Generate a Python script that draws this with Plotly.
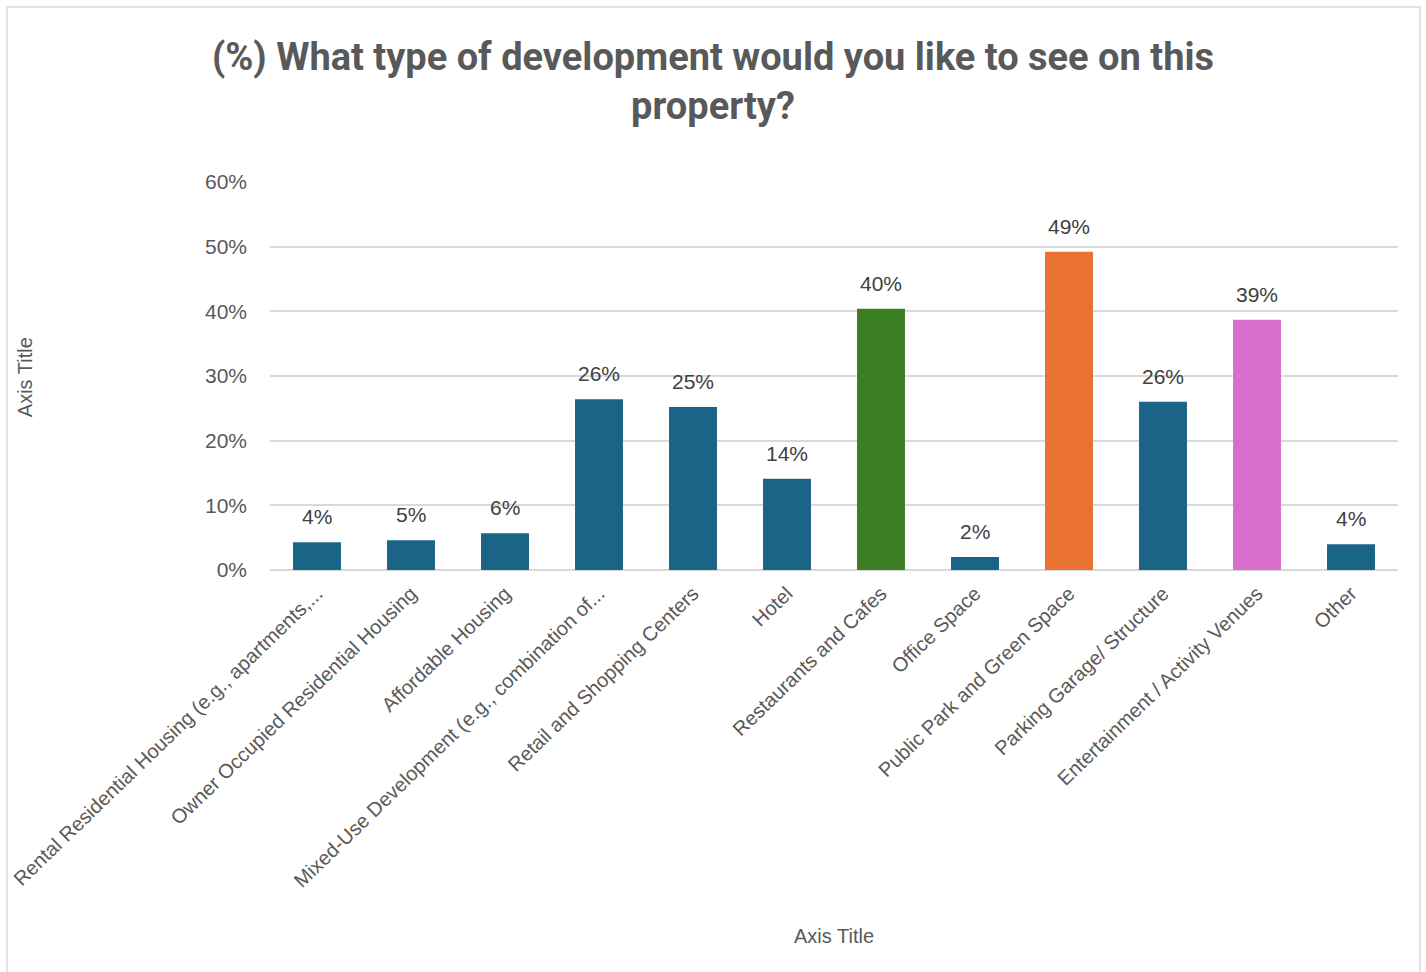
import plotly.graph_objects as go

categories = [
    "Rental Residential Housing (e.g., apartments,...",
    "Owner Occupied Residential Housing",
    "Affordable Housing",
    "Mixed-Use Development (e.g., combination of...",
    "Retail and Shopping Centers",
    "Hotel",
    "Restaurants and Cafes",
    "Office Space",
    "Public Park and Green Space",
    "Parking Garage/ Structure",
    "Entertainment / Activity Venues",
    "Other",
]
values = [0.043, 0.046, 0.057, 0.264, 0.252, 0.141, 0.404, 0.020, 0.492, 0.260, 0.387, 0.040]
bar_colors = ["#1a6488", "#1a6488", "#1a6488", "#1a6488", "#1a6488", "#1a6488",
              "#3b7d23", "#1a6488", "#e97132", "#1a6488", "#d86ecc", "#1a6488"]
y_ticks = [0, 0.1, 0.2, 0.3, 0.4, 0.5, 0.6]

GRAY = "#595959"
FONT = "Liberation Sans"

fig = go.Figure()
fig.add_trace(go.Bar(
    x=categories, y=values,
    marker=dict(color=bar_colors, line=dict(width=0)),
    hoverinfo="skip",
))

for c, v in zip(categories, values):
    fig.add_annotation(
        x=c, y=v, text=f"{round(v*100):d}%", showarrow=False,
        yanchor="bottom", yshift=12, xref="x", yref="y",
        font=dict(family=FONT, size=21, color="#404040"),
    )

# axis titles
fig.add_annotation(text="Axis Title", xref="paper", yref="paper", x=-0.2172, y=0.497,
                   textangle=-90, showarrow=False, xanchor="center", yanchor="middle",
                   font=dict(family=FONT, size=20, color=GRAY))
fig.add_annotation(text="Axis Title", xref="paper", yref="paper", x=0.5, y=-0.943,
                   showarrow=False, xanchor="center", yanchor="middle",
                   font=dict(family=FONT, size=20, color=GRAY))

fig.add_shape(type="rect", xref="paper", yref="paper",
              x0=-0.2332, x1=1.0195, y0=-1.1, y1=1.451,
              line=dict(color="#d9d9d9", width=1.5), fillcolor="rgba(0,0,0,0)", layer="below")

fig.update_layout(
    width=1426, height=972,
    margin=dict(l=270, r=28, t=182, b=402),
    paper_bgcolor="white", plot_bgcolor="white",
    bargap=0.49,
    showlegend=False,
    title=dict(
        text="(%) What type of development would you like to see on this<br>property?",
        x=713 / 1426, xref="container", xanchor="center",
        y=(972 - 70) / 972, yref="container", yanchor="middle",
        font=dict(family="Roboto", size=38, color=GRAY, weight="bold"),
    ),
    font=dict(family=FONT, color=GRAY),
)

fig.update_xaxes(
    tickangle=-44, tickfont=dict(family=FONT, size=20, color=GRAY),
    showgrid=False, showline=False, ticks="", ticklabelstandoff=7,
    automargin=False,
)
fig.update_yaxes(
    range=[0, 0.6], tickvals=y_ticks, tickformat=".0%",
    tickfont=dict(family=FONT, size=21, color=GRAY),
    showgrid=True, gridcolor="#d9d9d9", gridwidth=1.5,
    zeroline=True, zerolinecolor="#d9d9d9", zerolinewidth=1.5,
    ticks="", ticklabelstandoff=22,
    automargin=False,
)

fig.write_html("out.html", config={"displayModeBar": False},
               post_script="document.body.style.margin='0';document.body.style.overflow='hidden';")
